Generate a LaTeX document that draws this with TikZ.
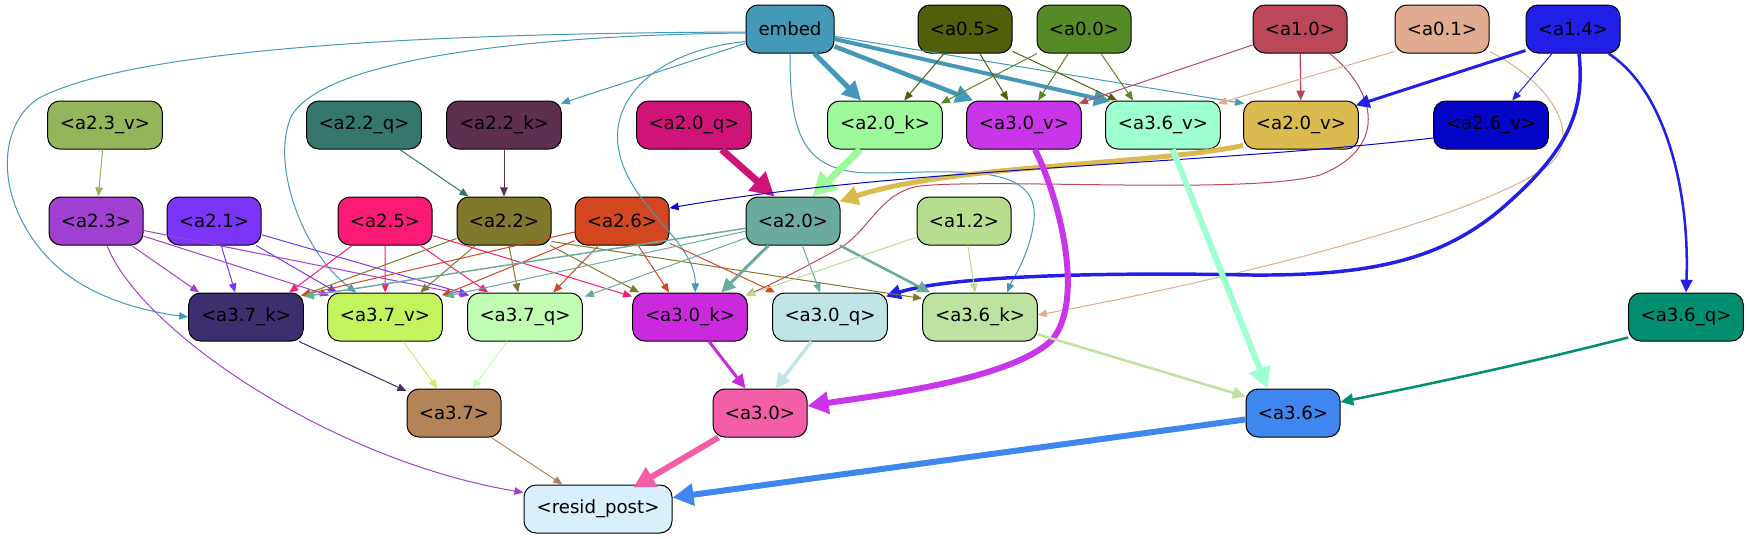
\documentclass[tikz,border=0pt]{standalone}
\usepackage{fontspec}
\newfontfamily\dv{DejaVu Sans}
\usetikzlibrary{arrows.meta,calc}
\definecolor{cEmbed}{HTML}{4499B8}
\definecolor{cA05}{HTML}{525F0A}
\definecolor{cA00}{HTML}{568A26}
\definecolor{cA10}{HTML}{BB4858}
\definecolor{cA01}{HTML}{E0AB8E}
\definecolor{cA14}{HTML}{2220E6}
\definecolor{cA23v}{HTML}{95B55A}
\definecolor{cA22q}{HTML}{35776C}
\definecolor{cA22k}{HTML}{5E2F4F}
\definecolor{cA20q}{HTML}{CF1379}
\definecolor{cA20k}{HTML}{9EF99A}
\definecolor{cA30v}{HTML}{C936EA}
\definecolor{cA36v}{HTML}{9EFFD0}
\definecolor{cA20v}{HTML}{DBBB50}
\definecolor{cA26v}{HTML}{0505C8}
\definecolor{cA23}{HTML}{A040D0}
\definecolor{cA21}{HTML}{7B35F8}
\definecolor{cA25}{HTML}{FC1A77}
\definecolor{cA22}{HTML}{7F792E}
\definecolor{cA26}{HTML}{D2471F}
\definecolor{cA20}{HTML}{6AAB9E}
\definecolor{cA12}{HTML}{B7DE8E}
\definecolor{cA37k}{HTML}{3D2E70}
\definecolor{cA37v}{HTML}{C3F45E}
\definecolor{cA37q}{HTML}{C0FCB1}
\definecolor{cA30k}{HTML}{CB2ADC}
\definecolor{cA30q}{HTML}{C0E5E6}
\definecolor{cA36k}{HTML}{BCE4A0}
\definecolor{cA36q}{HTML}{028E70}
\definecolor{cA37}{HTML}{B48358}
\definecolor{cA30}{HTML}{F35EA6}
\definecolor{cA36}{HTML}{3F86EE}
\definecolor{cResid}{HTML}{D8F0FC}
\begin{document}
\begin{tikzpicture}[x=0.75pt,y=-0.75pt,
  nd/.style={draw=black, line width=0.75pt, rounded corners=9pt, minimum height=36pt, inner sep=0pt, font=\dv\fontsize{13.6}{16}\selectfont},
  ws/.style={nd, minimum width=70.5pt},
  wl/.style={nd, minimum width=86pt},
  ed/.style={-{Triangle[length=5pt 2.4,width=3.5pt 2.8]}, line width=0.75pt}]
\useasboundingbox (0,0) rectangle (1750,539);
% row 1
\node[nd, minimum width=66pt, fill=cEmbed] (embed) at (790,29) {embed};
\node[ws, fill=cA05] (a05) at (965,29) {<a0.5>};
\node[ws, fill=cA00] (a00) at (1084,29) {<a0.0>};
\node[ws, fill=cA10] (a10) at (1300,29) {<a1.0>};
\node[ws, fill=cA01] (a01) at (1442,29) {<a0.1>};
\node[ws, fill=cA14] (a14) at (1573,29) {<a1.4>};
% row 2
\node[wl, fill=cA23v] (a23v) at (105,125) {<a2.3\_v>};
\node[wl, fill=cA22q] (a22q) at (364,125) {<a2.2\_q>};
\node[wl, fill=cA22k] (a22k) at (504,125) {<a2.2\_k>};
\node[wl, fill=cA20q] (a20q) at (694,125) {<a2.0\_q>};
\node[wl, fill=cA20k] (a20k) at (885,125) {<a2.0\_k>};
\node[wl, fill=cA30v] (a30v) at (1024,125) {<a3.0\_v>};
\node[wl, fill=cA36v] (a36v) at (1163,125) {<a3.6\_v>};
\node[wl, fill=cA20v] (a20v) at (1301,125) {<a2.0\_v>};
\node[wl, fill=cA26v] (a26v) at (1491,125) {<a2.6\_v>};
% row 3
\node[ws, fill=cA23] (a23) at (96,221) {<a2.3>};
\node[ws, fill=cA21] (a21) at (214,221) {<a2.1>};
\node[ws, fill=cA25] (a25) at (385,221) {<a2.5>};
\node[ws, fill=cA22] (a22) at (504,221) {<a2.2>};
\node[ws, fill=cA26] (a26) at (622,221) {<a2.6>};
\node[ws, fill=cA20] (a20) at (793,221) {<a2.0>};
\node[ws, fill=cA12] (a12) at (964,221) {<a1.2>};
% row 4
\node[wl, fill=cA37k] (a37k) at (246,317) {<a3.7\_k>};
\node[wl, fill=cA37v] (a37v) at (385,317) {<a3.7\_v>};
\node[wl, fill=cA37q] (a37q) at (525,317) {<a3.7\_q>};
\node[wl, fill=cA30k] (a30k) at (690,317) {<a3.0\_k>};
\node[wl, fill=cA30q] (a30q) at (830,317) {<a3.0\_q>};
\node[wl, fill=cA36k] (a36k) at (980,317) {<a3.6\_k>};
\node[wl, fill=cA36q] (a36q) at (1686,317) {<a3.6\_q>};
% row 5
\node[ws, fill=cA37] (a37) at (454,413) {<a3.7>};
\node[ws, fill=cA30] (a30) at (760,413) {<a3.0>};
\node[ws, fill=cA36] (a36) at (1293,413) {<a3.6>};
% row 6
\node[nd, minimum width=111pt, fill=cResid] (resid) at (598,509) {<resid\_post>};

% ---- edges from embed
\draw[ed, cEmbed, line width=3.75pt] (embed) -- ($(a20k.north west)+(34,0)$);
\draw[ed, cEmbed, line width=3.4pt] (embed) -- ($(a30v.north west)+(7,0)$);
\draw[ed, cEmbed, line width=3pt] (embed) -- ($(a36v.north west)+(5,1)$);
\draw[ed, cEmbed] (embed) -- ($(a20v.north west)+(1,3)$);
\draw[ed, cEmbed] (embed) -- ($(a22k.north east)+(-1,3)$);
\draw[ed, cEmbed] ($(embed.west)+(0,3)$) .. controls (500,33) and (160,42) .. (45,95) .. controls (0,115) and (-12,195) .. (50,260) .. controls (90,300) and (150,312) .. (a37k.west);
\draw[ed, cEmbed] ($(embed.west)+(0,4)$) .. controls (550,35) and (330,55) .. (292,115) .. controls (270,160) and (300,250) .. ($(a37v.north west)+(29,0)$);
\draw[ed, cEmbed] ($(embed.south west)+(0,-12)$) .. controls (660,50) and (612,95) .. (618,145) .. controls (625,205) and (696,240) .. ($(a30k.north west)+(63,0)$);
\draw[ed, cEmbed] (embed.south) .. controls (790,130) and (800,172) .. (870,173) .. controls (950,173) and (1040,160) .. (1034,220) .. controls (1030,255) and (1012,280) .. ($(a36k.north west)+(85,0)$);
% ---- a0.5, a0.0
\draw[ed, cA05] (a05) -- ($(a20k.north west)+(77,0)$);
\draw[ed, cA05] (a05) -- ($(a30v.north west)+(42,0)$);
\draw[ed, cA05] (a05) -- ($(a36v.north west)+(12,0)$);
\draw[ed, cA00] (a00) -- ($(a20k.north east)+(-2,3)$);
\draw[ed, cA00] (a00) -- ($(a30v.north west)+(72,0)$);
\draw[ed, cA00] (a00) -- ($(a36v.north west)+(28,0)$);
% ---- a1.0
\draw[ed, cA10] (a10) -- ($(a30v.north east)+(-3,3)$);
\draw[ed, cA10, line width=1pt] (a10) -- (a20v);
\draw[ed, cA10] ($(a10.south east)+(-18,0)$) .. controls (1370,85) and (1395,145) .. (1320,175) .. controls (1250,195) and (1000,178) .. (920,186) .. controls (880,192) and (870,230) .. (840,248) .. controls (800,270) and (770,285) .. ($(a30k.north east)+(-2,3)$);
% ---- a0.1
\draw[ed, cA01] ($(a01.south west)+(0,-2)$) -- ($(a36v.north east)+(-3,3)$);
\draw[ed, cA01] ($(a01.south east)+(0,-2)$) .. controls (1555,85) and (1585,140) .. (1545,168) .. controls (1460,225) and (1200,285) .. ($(a36k.east)+(0,-2)$);
% ---- a1.4
\draw[ed, cA14, line width=2.25pt] ($(a14.south west)+(0,-3)$) -- ($(a20v.north east)+(-3,5)$);
\draw[ed, cA14] (a14) -- ($(a26v.north west)+(79,0)$);
\draw[ed, cA14, line width=2.6pt] ($(a14.south)+(6,0)$) .. controls (1585,110) and (1570,150) .. (1500,210) .. controls (1440,260) and (1370,276) .. (1250,275) .. controls (1100,272) and (950,276) .. ($(a30q.north east)+(-2,4)$);
\draw[ed, cA14, line width=1.9pt] ($(a14.south east)+(-12,0)$) .. controls (1665,90) and (1690,190) .. (a36q.north);
% ---- row 2 to row 3
\draw[ed, cA23v] (a23v) -- (a23);
\draw[ed, cA22q] (a22q) -- ($(a22.north west)+(12,0)$);
\draw[ed, cA22k] (a22k) -- (a22);
\draw[ed, cA20q, line width=5.25pt] (a20q) -- ($(a20.north west)+(29,0)$);
\draw[ed, cA20k, line width=5.25pt] (a20k) -- ($(a20.north west)+(67,0)$);
\draw[ed, cA20v, line width=3.75pt] ($(a20v.south west)+(0,-4)$) .. controls (1150,165) and (950,165) .. ($(a20.north east)+(-1,5)$);
\draw[ed, cA26v] ($(a26v.west)+(0,13)$) .. controls (1200,165) and (900,168) .. ($(a26.east)+(0,-13)$);
% ---- long verticals
\draw[ed, cA30v, line width=4.5pt] ($(a30v.south)+(11,0)$) .. controls (1060,200) and (1085,300) .. (1052,340) .. controls (1010,380) and (880,395) .. ($(a30.east)+(0,-7)$);
\draw[ed, cA36v, line width=4.5pt] (a36v) -- ($(a36.north west)+(22,0)$);
% ---- row 3 to row 4
\draw[ed, cA23] (a23) -- ($(a37k.north west)+(11,0)$);
\draw[ed, cA23] (a23) -- ($(a37v.north west)+(2,3)$);
\draw[ed, cA23] (a23) -- ($(a37q.north west)+(2,3)$);
\draw[ed, cA23] ($(a23.south)+(11,0)$) .. controls (140,330) and (330,460) .. ($(resid.north west)+(0,8)$);
\draw[ed, cA21] (a21) -- ($(a37k.north west)+(47,0)$);
\draw[ed, cA21] (a21) -- ($(a37v.north west)+(10,0)$);
\draw[ed, cA21] (a21) -- ($(a37q.north west)+(1,2)$);
\draw[ed, cA25] (a25) -- ($(a37k.north west)+(101,0)$);
\draw[ed, cA25] (a25) -- ($(a37v.north west)+(58,0)$);
\draw[ed, cA25] (a25) -- ($(a37q.north west)+(21,0)$);
\draw[ed, cA25] (a25) -- ($(a30k.north west)+(0,4)$);
\draw[ed, cA22] (a22) -- ($(a37k.north east)+(-2,3)$);
\draw[ed, cA22] (a22) -- ($(a37v.north west)+(93,0)$);
\draw[ed, cA22] (a22) -- ($(a37q.north west)+(51,0)$);
\draw[ed, cA22] (a22) -- ($(a30k.north west)+(7,0)$);
\draw[ed, cA22] ($(a22.south east)+(0,-4)$) -- ($(a36k.north west)+(0,6)$);
\draw[ed, cA26] (a26) -- ($(a37k.north east)+(-3,3)$);
\draw[ed, cA26] (a26) -- ($(a37v.north east)+(-1,3)$);
\draw[ed, cA26] (a26) -- ($(a37q.north west)+(86,0)$);
\draw[ed, cA26] (a26) -- ($(a30k.north west)+(37,0)$);
\draw[ed, cA26] (a26) -- ($(a30q.north west)+(3,0)$);
\draw[ed, cA20, line width=1.1pt] (a20) -- ($(a37k.north east)+(0,4)$);
\draw[ed, cA20] (a20) -- ($(a37v.north east)+(2,4)$);
\draw[ed, cA20] (a20) -- ($(a37q.north east)+(2,4)$);
\draw[ed, cA20, line width=2.25pt] (a20) -- ($(a30k.north west)+(89,0)$);
\draw[ed, cA20] (a20) -- ($(a30q.north west)+(48,0)$);
\draw[ed, cA20, line width=1.9pt] (a20) -- ($(a36k.north west)+(8,0)$);
\draw[ed, cA12] (a12) -- ($(a30k.north east)+(-2,3)$);
\draw[ed, cA12] (a12) -- ($(a36k.north west)+(53,0)$);
% ---- row 4 to row 5
\draw[ed, cA37k] (a37k) -- (a37);
\draw[ed, cA37v] (a37v) -- ($(a37.north west)+(31,0)$);
\draw[ed, cA37q] (a37q) -- ($(a37.north west)+(66,0)$);
\draw[ed, cA30k, line width=2.25pt] (a30k) -- ($(a30.north west)+(33,0)$);
\draw[ed, cA30q, line width=2.6pt] (a30q) -- ($(a30.north west)+(63,0)$);
\draw[ed, cA36k, line width=1.9pt] (a36k) -- ($(a36.north west)+(0,8)$);
\draw[ed, cA36q, line width=1.9pt] ($(a36q.south west)+(0,-4)$) .. controls (1540,360) and (1450,380) .. ($(a36.east)+(0,-11)$);
% ---- to resid_post
\draw[ed, cA37] (a37) -- ($(resid.north west)+(39,0)$);
\draw[ed, cA30, line width=4.5pt] (a30) -- ($(resid.north west)+(110,3)$);
\draw[ed, cA36, line width=4.5pt] (a36) -- ($(resid.north east)+(0,13)$);
\end{tikzpicture}
\end{document}
